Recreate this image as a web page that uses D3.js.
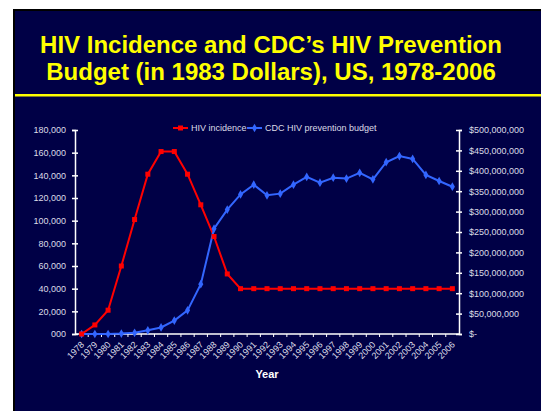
<!DOCTYPE html>
<html lang="en">
  <head>
    <meta charset="UTF-8" />
    <title>HIV Incidence and CDC's HIV Prevention Budget</title>
    <script src="https://d3js.org/d3.v7.min.js"></script>
    <style>
      body {
        margin: 0;
        background: #fff;
      }
      text {
        font-family: "Liberation Sans", Arial, sans-serif;
      }
      .tick-label {
        font-size: 9px;
        fill: #dcdce6;
      }
    </style>
  </head>

  <body>
    <svg id="chart" width="541" height="411"></svg>
    <script>
      // data
      const years = d3.range(1978, 2007).map(String);
      const hivIncidence = [
        0, 8000, 21000, 60000, 101000, 141000, 161000, 161000, 141000, 114000,
        86000, 53000, 40000, 40000, 40000, 40000, 40000, 40000, 40000, 40000,
        40000, 40000, 40000, 40000, 40000, 40000, 40000, 40000, 40000,
      ];
      const preventionBudget = [
        0, 0, 0, 1e6, 3e6, 9e6, 16e6, 33e6, 58e6, 122e6, 258e6, 305e6, 342e6,
        366e6, 340e6, 344e6, 366e6, 385e6, 371e6, 383e6, 381e6, 395e6, 379e6,
        421e6, 436e6, 429e6, 390e6, 375e6, 361e6,
      ];
      const leftTicks = d3.range(0, 180001, 20000);
      const rightTicks = d3.range(0, 500e6 + 1, 50e6);
      const titleLines = [
        "HIV Incidence and CDC\u2019s HIV Prevention",
        "Budget (in 1983 Dollars), US, 1978-2006",
      ];

      const svg = d3.select("#chart");
      const red = "#ff0000";
      const blue = "#3366ff";

      // slide background
      svg
        .append("rect")
        .attr("x", 14)
        .attr("y", 10)
        .attr("width", 530)
        .attr("height", 405)
        .attr("fill", "#000046")
        .attr("stroke", "#000")
        .attr("stroke-width", 2);

      svg
        .selectAll(".title")
        .data(titleLines)
        .enter()
        .append("text")
        .attr("x", 271)
        .attr("y", (d, i) => 53 + i * 27)
        .attr("text-anchor", "middle")
        .style("font-size", "24px")
        .style("font-weight", "bold")
        .attr("fill", "#ffff00")
        .text((d) => d);

      svg
        .append("rect")
        .attr("x", 15)
        .attr("y", 94)
        .attr("width", 526)
        .attr("height", 2.5)
        .attr("fill", "#ffff00");

      const plotLeft = 75,
        plotRight = 459,
        plotTop = 130,
        plotBottom = 334;

      const x = d3.scaleBand().domain(years).range([plotLeft, plotRight]);
      const cx = (d) => x(d) + x.bandwidth() / 2;
      const yLeft = d3
        .scaleLinear()
        .domain([0, 180000])
        .range([plotBottom, plotTop]);
      const yRight = d3
        .scaleLinear()
        .domain([0, 500e6])
        .range([plotBottom, plotTop]);

      const fmt = d3.format(",");

      // left axis
      const gl = svg
        .append("g")
        .attr("transform", `translate(${plotLeft},0)`)
        .call(
          d3
            .axisLeft(yLeft)
            .tickValues(leftTicks)
            .tickSize(3)
            .tickPadding(6)
            .tickFormat((d) => (d === 0 ? "000" : fmt(d)))
        );
      gl.selectAll(".tick line").attr("x1", 3).attr("x2", -3);

      // right axis
      const gr = svg
        .append("g")
        .attr("transform", `translate(${plotRight},0)`)
        .call(
          d3
            .axisRight(yRight)
            .tickValues(rightTicks)
            .tickSize(3)
            .tickPadding(7)
            .tickFormat((d) => (d === 0 ? "$-" : "$" + fmt(d)))
        );
      gr.selectAll(".tick line").attr("x1", -3).attr("x2", 3);

      [gl, gr].forEach((g) => {
        g.select(".domain").attr("stroke", "#fff").attr("stroke-width", 1.5);
        g.selectAll(".tick line")
          .attr("stroke", "#fff")
          .attr("stroke-width", 1.5);
        g.selectAll(".tick text")
          .attr("class", "tick-label")
          .attr("fill", null)
          .style("font-family", "'Liberation Sans', Arial, sans-serif");
      });

      // x axis
      svg
        .append("line")
        .attr("x1", plotLeft)
        .attr("x2", plotRight)
        .attr("y1", plotBottom)
        .attr("y2", plotBottom)
        .attr("stroke", "#fff")
        .attr("stroke-width", 1.5);

      svg
        .selectAll(".xtick")
        .data(years.slice(1))
        .enter()
        .append("line")
        .attr("x1", (d) => x(d))
        .attr("x2", (d) => x(d))
        .attr("y1", plotBottom)
        .attr("y2", plotBottom + 3)
        .attr("stroke", "#fff")
        .attr("stroke-width", 1);

      svg
        .selectAll(".xlabel")
        .data(years)
        .enter()
        .append("text")
        .attr("class", "tick-label")
        .attr("text-anchor", "end")
        .attr("dy", "0.35em")
        .attr(
          "transform",
          (d) => `translate(${cx(d) + 1},${plotBottom + 9}) rotate(-45)`
        )
        .text((d) => d);

      svg
        .append("text")
        .attr("x", (plotLeft + plotRight) / 2)
        .attr("y", 378)
        .attr("text-anchor", "middle")
        .style("font-size", "11px")
        .style("font-weight", "bold")
        .attr("fill", "#fff")
        .text("Year");

      // lines
      const redLine = d3
        .line()
        .x((d, i) => cx(years[i]))
        .y((d) => yLeft(d));
      const blueLine = d3
        .line()
        .x((d, i) => cx(years[i]))
        .y((d) => yRight(d));

      svg
        .append("path")
        .datum(hivIncidence)
        .attr("fill", "none")
        .attr("stroke", red)
        .attr("stroke-width", 2)
        .attr("d", redLine);

      svg
        .append("path")
        .datum(preventionBudget)
        .attr("fill", "none")
        .attr("stroke", blue)
        .attr("stroke-width", 2)
        .attr("d", blueLine);

      const diamond = d3.symbol().type(d3.symbolDiamond).size(22);

      svg
        .selectAll(".bpt")
        .data(preventionBudget)
        .enter()
        .append("path")
        .attr("d", diamond)
        .attr(
          "transform",
          (d, i) => `translate(${cx(years[i])},${yRight(d)})`
        )
        .attr("fill", blue);

      svg
        .selectAll(".rpt")
        .data(hivIncidence)
        .enter()
        .append("rect")
        .attr("x", (d, i) => cx(years[i]) - 2.5)
        .attr("y", (d) => yLeft(d) - 2.5)
        .attr("width", 5)
        .attr("height", 5)
        .attr("fill", red);

      // legend
      const legend = svg.append("g").attr("transform", "translate(173,128)");
      const items = [
        { name: "HIV incidence", color: red, at: 0, sq: true },
        { name: "CDC HIV prevention budget", color: blue, at: 74, sq: false },
      ];
      items.forEach((it) => {
        legend
          .append("line")
          .attr("x1", it.at)
          .attr("x2", it.at + 15)
          .attr("stroke", it.color)
          .attr("stroke-width", 2);
        if (it.sq) {
          legend
            .append("rect")
            .attr("x", it.at + 5)
            .attr("y", -2.5)
            .attr("width", 5)
            .attr("height", 5)
            .attr("fill", it.color);
        } else {
          legend
            .append("path")
            .attr("d", diamond)
            .attr("transform", `translate(${it.at + 7.5},0)`)
            .attr("fill", it.color);
        }
        legend
          .append("text")
          .attr("class", "tick-label")
          .attr("x", it.at + 18)
          .attr("dy", "0.35em")
          .text(it.name);
      });
    </script>
  </body>
</html>
